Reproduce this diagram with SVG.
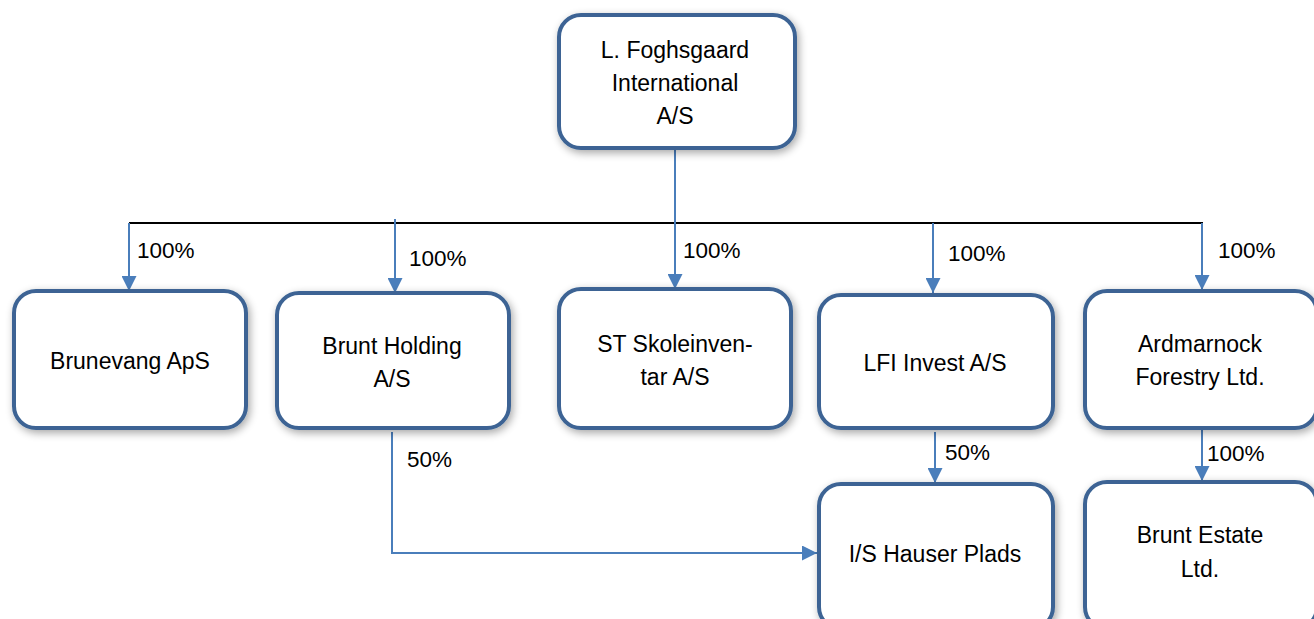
<svg xmlns="http://www.w3.org/2000/svg" width="1314" height="619" viewBox="0 0 1314 619">
  <defs>
    <filter id="sh" x="-20%" y="-20%" width="140%" height="140%">
      <feGaussianBlur in="SourceAlpha" stdDeviation="4"/>
      <feOffset dx="2" dy="3" result="b"/>
      <feComponentTransfer><feFuncA type="linear" slope="0.35"/></feComponentTransfer>
      <feMerge><feMergeNode/><feMergeNode in="SourceGraphic"/></feMerge>
    </filter>
    <marker id="ah" viewBox="0 0 10 10" refX="10" refY="5" markerWidth="7.5" markerHeight="7.5" markerUnits="strokeWidth" orient="auto">
      <path d="M0,0 L10,5 L0,10 z" fill="#4a7ebb"/>
    </marker>
  </defs>
  <style>
    .box { fill: #ffffff; stroke: #3c6494; stroke-width: 4; filter: url(#sh); }
    .t { font-family: "Liberation Sans", Arial, sans-serif; font-size: 23px; fill: #000; text-anchor: middle; }
    .lbl { font-family: "Liberation Sans", Arial, sans-serif; font-size: 22.5px; fill: #000; }
    .c { stroke: #4a7ebb; stroke-width: 2; fill: none; }
    .ca { stroke: #4a7ebb; stroke-width: 2; fill: none; marker-end: url(#ah); }
  </style>
  <rect width="1314" height="619" fill="#ffffff"/>

  <g id="connectors">
    <line x1="129" y1="223" x2="1203" y2="223" stroke="#000" stroke-width="2"/>
    <line class="ca" x1="675" y1="150" x2="675" y2="289"/>
    <line class="ca" x1="129" y1="223" x2="129" y2="291"/>
    <line class="ca" x1="395" y1="219" x2="395" y2="293"/>
    <line class="ca" x1="933" y1="223" x2="933" y2="293"/>
    <line class="ca" x1="1202" y1="223" x2="1202" y2="290"/>
    <polyline class="ca" points="392,432 392,553 817,553"/>
    <line class="ca" x1="935" y1="432" x2="935" y2="483"/>
    <line class="ca" x1="1202" y1="430" x2="1202" y2="481"/>
    <text class="lbl" x="137" y="258">100%</text>
    <text class="lbl" x="409" y="266">100%</text>
    <text class="lbl" x="683" y="258">100%</text>
    <text class="lbl" x="948" y="261">100%</text>
    <text class="lbl" x="1218" y="258">100%</text>
    <text class="lbl" x="407" y="467">50%</text>
    <text class="lbl" x="945" y="460">50%</text>
    <text class="lbl" x="1207" y="461">100%</text>
  </g>

  <g id="n-top">
    <rect class="box" x="559" y="15" width="236" height="133" rx="22"/>
    <text class="t" x="675" y="58">L. Foghsgaard</text>
    <text class="t" x="675" y="91">International</text>
    <text class="t" x="675" y="124">A/S</text>
  </g>
  <g id="n-brunevang">
    <rect class="box" x="14" y="291" width="232" height="137" rx="22"/>
    <text class="t" x="130" y="369">Brunevang ApS</text>
  </g>
  <g id="n-brunt-holding">
    <rect class="box" x="277" y="293" width="232" height="135" rx="22"/>
    <text class="t" x="392" y="354">Brunt Holding</text>
    <text class="t" x="392" y="387">A/S</text>
  </g>
  <g id="n-st">
    <rect class="box" x="559" y="289" width="232" height="139" rx="22"/>
    <text class="t" x="675" y="352">ST Skoleinven-</text>
    <text class="t" x="675" y="385">tar A/S</text>
  </g>
  <g id="n-lfi">
    <rect class="box" x="819" y="295" width="234" height="133" rx="22"/>
    <text class="t" x="935" y="371">LFI Invest A/S</text>
  </g>
  <g id="n-ardmarnock">
    <rect class="box" x="1085" y="291" width="232" height="137" rx="22"/>
    <text class="t" x="1200" y="352">Ardmarnock</text>
    <text class="t" x="1200" y="385">Forestry Ltd.</text>
  </g>
  <g id="n-hauser">
    <rect class="box" x="819" y="484" width="234" height="145" rx="22"/>
    <text class="t" x="935" y="562">I/S Hauser Plads</text>
  </g>
  <g id="n-brunt-estate">
    <rect class="box" x="1085" y="482" width="232" height="147" rx="22"/>
    <text class="t" x="1200" y="543">Brunt Estate</text>
    <text class="t" x="1200" y="577">Ltd.</text>
  </g>
</svg>
